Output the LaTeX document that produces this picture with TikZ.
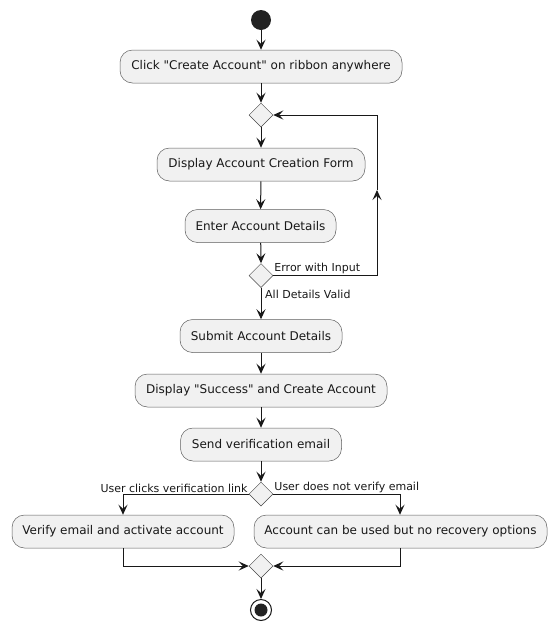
\documentclass[tikz,border=0pt]{standalone}
\usepackage{fontspec}
\setmainfont[Ligatures=TeXOff]{DejaVu Sans}
\usetikzlibrary{arrows.meta,shapes.geometric}
\definecolor{boxfill}{HTML}{F1F1F1}
\definecolor{ink}{HTML}{181818}
\definecolor{dot}{HTML}{222222}
\tikzset{
  act/.style={draw=ink!70, line width=0.5pt, fill=boxfill, rounded corners=12.5pt,
    minimum height=33pt, inner sep=0pt, font=\fontsize{12}{14}\selectfont, text=ink},
  dec/.style={diamond, draw=ink!80, line width=0.5pt, fill=boxfill, minimum width=24pt,
    minimum height=24pt, inner sep=0pt},
  flow/.style={draw=ink, line width=1pt, -{Stealth[length=10pt,width=9pt,inset=4pt]}},
  lbl/.style={font=\fontsize{11}{13}\selectfont, text=ink, inner sep=0pt},
}
\begin{document}
\begin{tikzpicture}[x=1pt,y=-1pt]
\useasboundingbox (0,0) rectangle (556,630);
\node[circle, fill=dot, minimum size=20pt, inner sep=0pt] (start) at (261,20) {};
\node[act, minimum width=282pt] (b1) at (261,66.5) {Click "Create Account" on ribbon anywhere};
\node[dec] (d1) at (261,115) {};
\node[act, minimum width=208pt] (b2) at (261,164.5) {Display Account Creation Form};
\node[act, minimum width=151pt] (b3) at (260.5,226) {Enter Account Details};
\node[dec] (d2) at (261,275.5) {};
\node[act, minimum width=162pt] (b4) at (261,336) {Submit Account Details};
\node[act, minimum width=252pt] (b5) at (261,390.5) {Display "Success" and Create Account};
\node[act, minimum width=161pt] (b6) at (261,444.5) {Send verification email};
\node[dec] (d3) at (261,494) {};
\node[act, minimum width=222pt] (b7) at (123,531.5) {Verify email and activate account};
\node[act, minimum width=293pt] (b8) at (400.5,531.5) {Account can be used but no recovery options};
\node[dec] (d4) at (261,566) {};
\node[circle, draw=ink, line width=1pt, fill=white, minimum size=21pt, inner sep=0pt] (stop) at (261,610) {};
\node[circle, fill=dot, minimum size=13pt, inner sep=0pt] (stopdot) at (stop.center) {};
\coordinate (loopup) at (377,190);

\draw[flow] (start) -- (b1);
\draw[flow] (b1) -- (d1.north);
\draw[flow] (d1.south) -- (b2);
\draw[flow] (b2) -- (b3);
\draw[flow] (b3) -- (d2.north);
\draw[flow] (d2.east) -| (loopup);
\draw[flow] (loopup) |- (d1.east);
\draw[flow] (d2.south) -- (b4);
\draw[flow] (b4) -- (b5);
\draw[flow] (b5) -- (b6);
\draw[flow] (b6) -- (d3.north);
\draw[flow] (d3.west) -| (b7.north);
\draw[flow] (d3.east) -| (b8.north -| 400,0);
\draw[flow] (b7.south) |- (d4.west);
\draw[flow] (b8.south -| 400,0) |- (d4.east);
\draw[flow] (d4.south) -- (stop.north);

\node[lbl, anchor=south west] (l1) at ([xshift=1pt,yshift=1.5pt]d2.east) {Error with Input};
\node[lbl, anchor=west] (l2) at (265,294) {All Details Valid};
\node[lbl, anchor=south east] (l3) at ([xshift=-1pt,yshift=1.5pt]d3.west) {User clicks verification link};
\node[lbl, anchor=south west] (l4) at ([xshift=1pt,yshift=1.5pt]d3.east) {User does not verify email};
\end{tikzpicture}
\end{document}
